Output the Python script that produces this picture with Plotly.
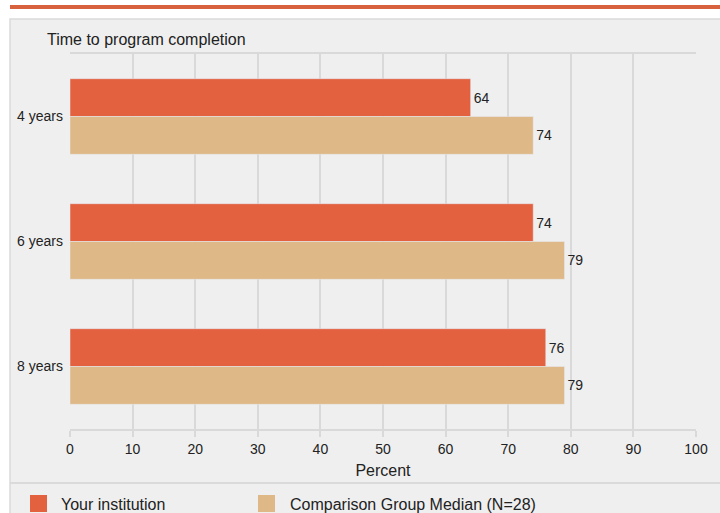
import plotly.graph_objects as go

CATEGORIES = ["4 years", "6 years", "8 years"]
YOUR_INSTITUTION = [64, 74, 76]
COMPARISON_MEDIAN = [74, 79, 79]
X_TICKS = list(range(0, 101, 10))
SERIES_NAMES = ["Your institution", "Comparison Group Median (N=28)"]

RED = "#E46140"
TAN = "#DFB887"
PANEL = "#EFEFEF"
GRID = "#D9D9D9"
TEXT = "#222222"
FONT = "Liberation Sans, Arial, sans-serif"

# plot area in pixels
L, R, T, B = 70, 696, 54, 429


def xp(px):
    return (px - L) / (R - L)


def yp(py):
    return (B - py) / (B - T)


fig = go.Figure()
fig.add_trace(go.Bar(
    y=CATEGORIES, x=YOUR_INSTITUTION, orientation="h",
    name=SERIES_NAMES[0], marker_color=RED,
    text=YOUR_INSTITUTION, textposition="outside",
    textfont=dict(size=14, color=TEXT), cliponaxis=False,
))
fig.add_trace(go.Bar(
    y=CATEGORIES, x=COMPARISON_MEDIAN, orientation="h",
    name=SERIES_NAMES[1], marker_color=TAN,
    text=COMPARISON_MEDIAN, textposition="outside",
    textfont=dict(size=14, color=TEXT), cliponaxis=False,
))

fig.update_layout(
    width=720, height=513,
    barmode="group", bargap=0.395, bargroupgap=0,
    paper_bgcolor="white", plot_bgcolor=PANEL,
    font=dict(family=FONT, size=14, color=TEXT),
    margin=dict(l=L, r=720 - R, t=T, b=513 - B, autoexpand=False),
    showlegend=False,
    xaxis=dict(
        range=[0, 100], tickvals=X_TICKS, showgrid=True,
        gridcolor=GRID, gridwidth=2, zeroline=False,
        showline=True, linecolor=GRID, linewidth=2, mirror=True,
        ticks="outside", ticklen=6, tickcolor=GRID, tickwidth=2,
        tickfont=dict(size=14, color=TEXT),
        title=dict(text="Percent", font=dict(size=16, color=TEXT), standoff=9),
    ),
    yaxis=dict(
        autorange="reversed", showgrid=False, ticks="", ticklabelstandoff=6,
        tickfont=dict(size=14, color=TEXT),
    ),
    shapes=[
        # orange band at the top
        dict(type="rect", xref="paper", yref="paper", layer="below",
             x0=xp(10), x1=xp(722), y0=yp(9), y1=yp(5),
             fillcolor="#D9623E", line_width=0),
        # grey panel
        dict(type="rect", xref="paper", yref="paper", layer="below",
             x0=xp(10), x1=xp(724), y0=yp(520), y1=yp(19),
             fillcolor=PANEL, line=dict(color="#DADADA", width=1.5)),
        # separator above legend
        dict(type="line", xref="paper", yref="paper", layer="below",
             x0=xp(10), x1=xp(722), y0=yp(483), y1=yp(483),
             line=dict(color="#DADADA", width=2)),
        # legend swatches
        dict(type="rect", xref="paper", yref="paper",
             x0=xp(30), x1=xp(47), y0=yp(512), y1=yp(495),
             fillcolor=RED, line_width=0),
        dict(type="rect", xref="paper", yref="paper",
             x0=xp(258), x1=xp(275), y0=yp(512), y1=yp(495),
             fillcolor=TAN, line_width=0),
    ],
    annotations=[
        dict(text="Time to program completion", xref="paper", yref="paper",
             x=xp(45), y=yp(40), xanchor="left", yanchor="middle",
             showarrow=False, font=dict(size=16, color=TEXT)),
        dict(text=SERIES_NAMES[0], xref="paper", yref="paper",
             x=xp(59), y=yp(504), xanchor="left", yanchor="middle",
             showarrow=False, font=dict(size=16, color=TEXT)),
        dict(text=SERIES_NAMES[1], xref="paper", yref="paper",
             x=xp(288), y=yp(504), xanchor="left", yanchor="middle",
             showarrow=False, font=dict(size=16, color=TEXT)),
    ],
)

fig.write_html("out.html", config={"displayModeBar": False},
               post_script="document.body.style.margin='0';")
